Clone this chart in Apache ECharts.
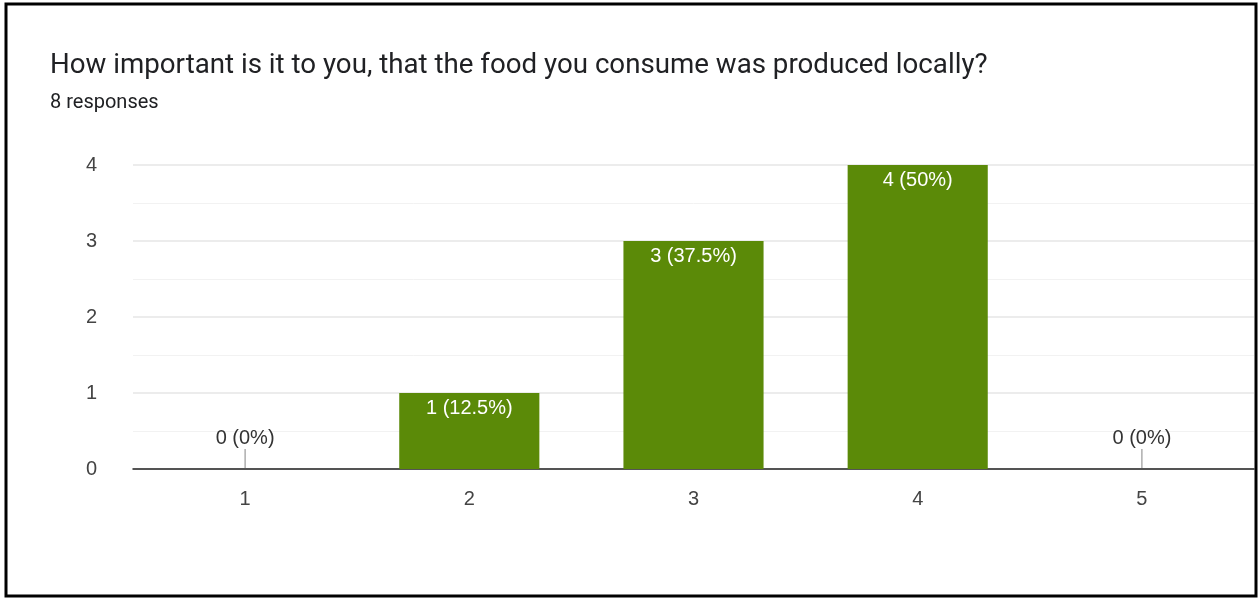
<!DOCTYPE html>
<html><head><meta charset="utf-8">
<script src="https://cdn.jsdelivr.net/npm/echarts@6/dist/echarts.min.js"></script>
<style>html,body{margin:0;padding:0;background:#fff}#c{width:1258px;height:598px}</style>
</head><body><div id="c"></div>
<script>
const categories = ['1', '2', '3', '4', '5'];
const counts = [0, 1, 3, 4, 0];
const percents = ['0%', '12.5%', '37.5%', '50%', '0%'];
const yTicks = [0, 1, 2, 3, 4];
const titleText = 'How important is it to you, that the food you consume was produced locally?';
const subtitleText = '8 responses';

const barData = counts.map((v, i) => ({
  value: v,
  label: v === 0
    ? { show: true, position: 'top', distance: 21, color: '#333', formatter: v + ' (' + percents[i] + ')' }
    : { show: true, position: 'insideTop', distance: 5, color: '#fff', formatter: v + ' (' + percents[i] + ')' }
}));

const chart = echarts.init(document.getElementById('c'));
chart.setOption({
  animation: false,
  title: {
    text: titleText, subtext: subtitleText, left: 45, top: 47, itemGap: 13,
    textStyle: { fontFamily: 'Roboto', fontSize: 27.7, fontWeight: 'normal', color: '#202124' },
    subtextStyle: { fontFamily: 'Roboto', fontSize: 20, color: '#202124' }
  },
  grid: { left: 133, right: 4, top: 165, bottom: 129 },
  xAxis: {
    type: 'category', data: categories,
    axisLine: { lineStyle: { color: '#222', width: 1.5 } },
    axisTick: { show: false },
    axisLabel: { fontFamily: 'Liberation Sans', fontSize: 20, color: '#444', margin: 20 }
  },
  yAxis: {
    type: 'value', min: yTicks[0], max: yTicks[yTicks.length - 1], interval: 1,
    axisLine: { show: false }, axisTick: { show: false },
    axisLabel: { fontFamily: 'Liberation Sans', fontSize: 20, color: '#444', margin: 36 },
    splitLine: { lineStyle: { color: '#e6e6e6', width: 1.5 } },
    minorTick: { show: false, splitNumber: 2 },
    minorSplitLine: { show: true, lineStyle: { color: '#f2f2f2', width: 1 } }
  },
  series: [
    {
      type: 'bar', data: barData, barWidth: '62.5%',
      itemStyle: { color: '#5b8a08' },
      label: { fontFamily: 'Liberation Sans', fontSize: 20 },
      z: 3
    },
    {
      type: 'custom', z: 4, silent: true,
      data: counts.map((v, i) => [i, v]),
      renderItem: function (params, api) {
        if (api.value(1) !== 0) return null;
        const p = api.coord([api.value(0), 0]);
        return { type: 'line', shape: { x1: p[0], y1: p[1] - 20, x2: p[0], y2: p[1] - 1 }, style: { stroke: '#999', lineWidth: 1.2 } };
      }
    }
  ],
  graphic: [{
    type: 'rect', shape: { x: 6, y: 4, width: 1250, height: 592 },
    style: { fill: null, stroke: '#000', lineWidth: 3 }, z: 100
  }]
});
</script></body></html>
